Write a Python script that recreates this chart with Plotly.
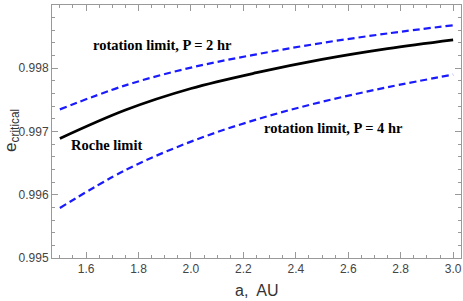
import plotly.graph_objects as go

a_vals = [1.5, 1.75, 2.0, 2.25, 2.5, 2.75, 3.0]
roche = [0.99689, 0.99734, 0.99768, 0.99793, 0.99814, 0.99831, 0.99845]
rot_p2 = [0.99735, 0.99773, 0.99801, 0.99822, 0.99840, 0.99855, 0.99868]
rot_p4 = [0.99579, 0.99639, 0.99684, 0.99719, 0.99747, 0.99770, 0.99790]
x_ticks = [1.6, 1.8, 2.0, 2.2, 2.4, 2.6, 2.8, 3.0]
y_ticks = [0.995, 0.996, 0.997, 0.998, 0.999]

fig = go.Figure()
fig.add_trace(go.Scatter(x=a_vals, y=rot_p2, mode="lines", line=dict(color="#1a1aff", width=2.2, dash="7px,4px", shape="spline")))
fig.add_trace(go.Scatter(x=a_vals, y=roche, mode="lines", line=dict(color="black", width=2.8, shape="spline")))
fig.add_trace(go.Scatter(x=a_vals, y=rot_p4, mode="lines", line=dict(color="#1a1aff", width=2.2, dash="7px,4px", shape="spline")))

axis_common = dict(showgrid=False, zeroline=False, showline=True, linecolor="#999999", linewidth=1,
                   mirror="allticks", ticks="inside", ticklen=6, tickcolor="#999999", automargin=False,
                   tickfont=dict(family="Liberation Sans, Arial", size=12, color="#444444"))

fig.update_xaxes(range=[1.47, 3.03], tickvals=x_ticks, ticktext=[f"{v:.1f}" for v in x_ticks],
                 minor=dict(dtick=0.05, ticks="inside", ticklen=3, tickcolor="#999999", showgrid=False),
                 **axis_common)
fig.update_yaxes(range=[0.995, 0.999], tickvals=y_ticks, ticktext=[f"{v:.3f}" for v in y_ticks],
                 minor=dict(dtick=0.0002, ticks="inside", ticklen=3, tickcolor="#999999", showgrid=False),
                 **axis_common)

title_font = dict(family="Liberation Sans, Arial", size=16, color="#333333")
fig.add_annotation(x=0.501, y=-0.130, xref="paper", yref="paper", text="a,  AU", showarrow=False,
                   xanchor="center", yanchor="middle", font=title_font)
fig.add_annotation(x=-0.098, y=0.506, xref="paper", yref="paper", text="e<sub>critical</sub>", showarrow=False,
                   xanchor="center", yanchor="middle", textangle=-90, font=dict(family="Liberation Sans, Arial", size=17, color="#333333"))

ann_font = dict(family="Liberation Serif, Times New Roman", size=14.5, color="black")
for x, y, t in [(0.269, 0.842, "<b>rotation limit, P = 2 hr</b>"),
                (0.134, 0.447, "<b>Roche limit</b>"),
                (0.689, 0.514, "<b>rotation limit, P = 4 hr</b>")]:
    fig.add_annotation(x=x, y=y, xref="paper", yref="paper", text=t, showarrow=False,
                       xanchor="center", yanchor="middle", font=ann_font)

fig.update_layout(width=463, height=301, margin=dict(l=52, r=2, t=5, b=43),
                  plot_bgcolor="white", paper_bgcolor="white", showlegend=False)

fig.write_html("out.html", config={"displayModeBar": False},
               post_script="document.body.style.margin='0';document.body.style.overflow='hidden';")
